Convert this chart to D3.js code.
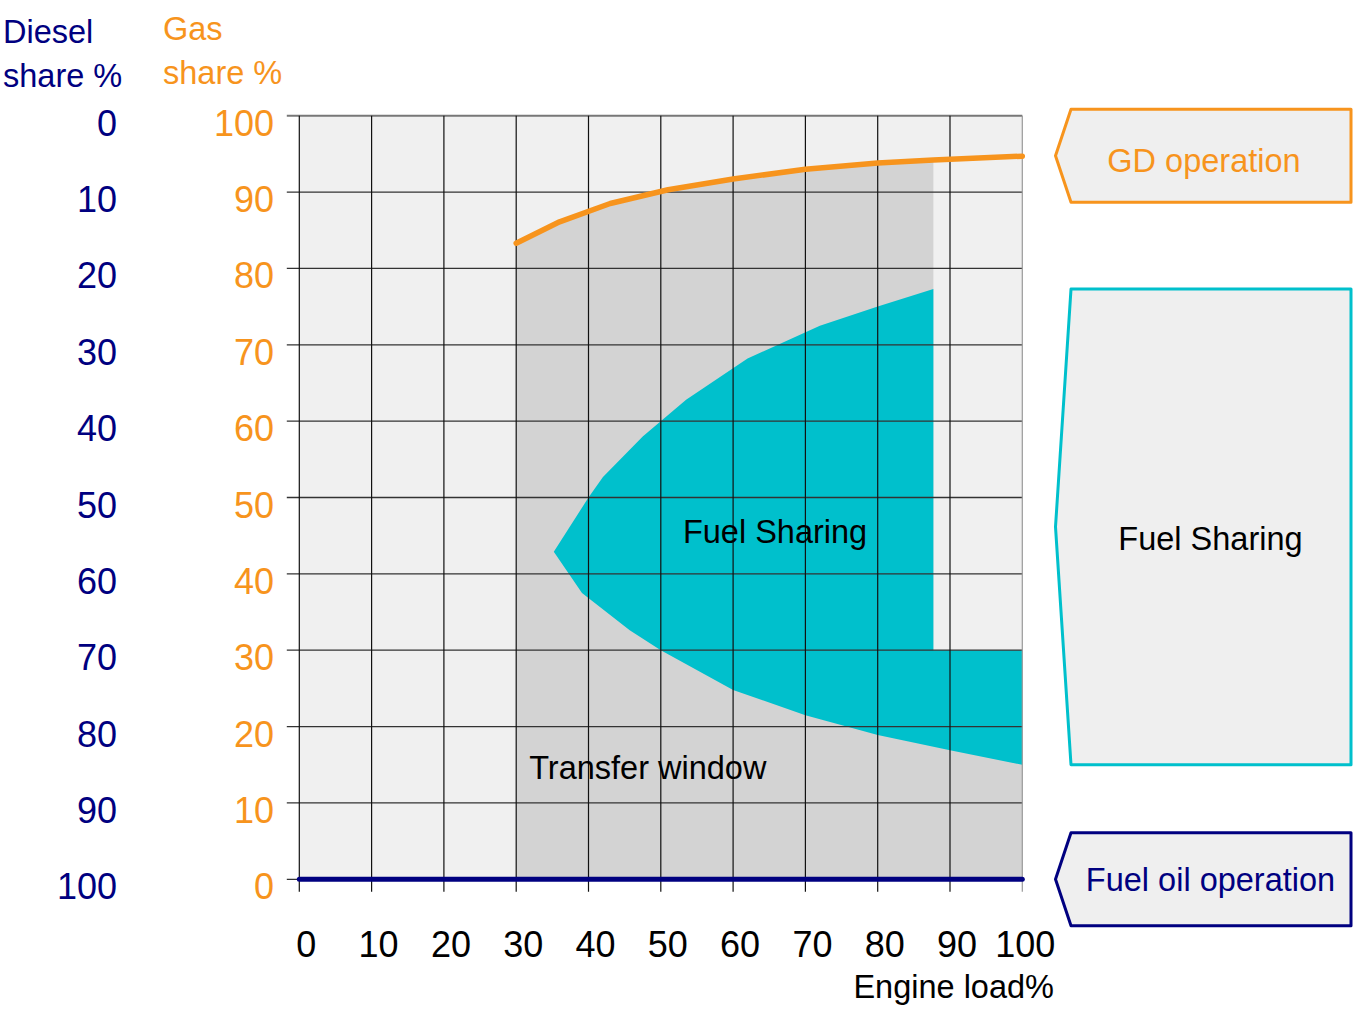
<!DOCTYPE html>
<html>
<head>
<meta charset="utf-8">
<script src="https://cdn.jsdelivr.net/npm/d3@7"></script>
<style>
  html, body { margin: 0; padding: 0; background: #ffffff; }
  svg { display: block; font-family: "Liberation Sans", Arial, sans-serif; }
</style>
</head>
<body>
<svg id="chart" width="1359" height="1013"></svg>
<script>
// Axis ticks
const loadTicks = [0, 10, 20, 30, 40, 50, 60, 70, 80, 90, 100];
const gasTicks = [100, 90, 80, 70, 60, 50, 40, 30, 20, 10, 0];
const dieselTicks = [0, 10, 20, 30, 40, 50, 60, 70, 80, 90, 100];

// Maximum gas share in gas-diesel operation (engine load %, gas share %)
const gdLoad = [30, 36, 43, 51, 60, 70, 80, 87.7, 100];
const gdGas = [83.3, 86.1, 88.5, 90.3, 91.7, 93.0, 93.8, 94.2, 94.7];

// Fuel sharing envelope: upper and lower boundaries
const upperLoad = [35.2, 40, 42, 47.5, 53.5, 62, 72, 80, 87.7];
const upperGas = [42.9, 50, 52.7, 58, 62.8, 68.2, 72.5, 75, 77.3];
const lowerLoad = [35.2, 39.1, 45.7, 50, 60, 70, 80, 90, 100];
const lowerGas = [42.9, 37.5, 32.6, 30, 24.8, 21.5, 18.9, 16.9, 15];

// Above this load the sharing band is capped at a fixed gas share
const sharingLoadLimit = 87.7;
const highLoadGasCap = 30;

const svg = d3.select("#chart");
const x = d3.scaleLinear().domain([0, 100]).range([299.3, 1022.3]);
const y = d3.scaleLinear().domain([0, 100]).range([879.3, 115.7]);

const navy = "#000080";
const orange = "#f7941d";
const cyan = "#00c0cc";
const fontSize = 32.5;

// Plot background
svg.append("rect")
  .attr("x", x(0)).attr("y", y(100))
  .attr("width", x(100) - x(0)).attr("height", y(0) - y(100))
  .attr("fill", "#f0f0f0");

const line = d3.line().x(d => x(d[0])).y(d => y(d[1]));

// Transfer window
const gdPts = gdLoad.map((l, i) => [l, gdGas[i]]);
const transfer = [[gdLoad[0], 0]]
  .concat(gdPts.filter(p => p[0] <= sharingLoadLimit))
  .concat([[sharingLoadLimit, highLoadGasCap], [100, highLoadGasCap], [100, 0]]);
svg.append("path")
  .attr("d", line(transfer) + "Z")
  .attr("fill", "#d3d3d3");

// Fuel sharing area
const upperPts = upperLoad.map((l, i) => [l, upperGas[i]]);
const lowerPts = lowerLoad.map((l, i) => [l, lowerGas[i]]);
const sharing = upperPts
  .concat([[sharingLoadLimit, highLoadGasCap], [100, highLoadGasCap]])
  .concat(lowerPts.slice().reverse());
svg.append("path")
  .attr("d", line(sharing) + "Z")
  .attr("fill", cyan);

// Grid: horizontal lines with left tick marks
const grid = svg.append("g");
grid.selectAll("line.h").data(gasTicks).enter().append("line")
  .attr("x1", x(0) - 12.5).attr("x2", x(100))
  .attr("y1", d => y(d)).attr("y2", d => y(d))
  .attr("stroke", d => d === 100 ? "#777" : "#333")
  .attr("stroke-width", d => d === 100 ? 2 : 1.3);
// Vertical lines with bottom tick marks
grid.selectAll("line.v").data(loadTicks).enter().append("line")
  .attr("x1", d => x(d)).attr("x2", d => x(d))
  .attr("y1", y(100)).attr("y2", y(0) + 12.5)
  .attr("stroke", d => d === 100 ? "#999" : "#111")
  .attr("stroke-width", 1.2);

// Gas-diesel operation limit line
svg.append("path")
  .attr("d", line(gdPts))
  .attr("fill", "none")
  .attr("stroke", orange)
  .attr("stroke-width", 5.5)
  .attr("stroke-linecap", "round")
  .attr("stroke-linejoin", "round");

// Fuel oil operation line (gas share 0)
svg.append("path")
  .attr("d", line([[0, 0], [100, 0]]))
  .attr("fill", "none")
  .attr("stroke", navy)
  .attr("stroke-width", 5)
  .attr("stroke-linecap", "round");

// Left axis titles
const titles = svg.append("g").attr("font-size", fontSize);
titles.append("text").attr("x", 3).attr("y", 43).attr("fill", navy).text("Diesel");
titles.append("text").attr("x", 3).attr("y", 87).attr("fill", navy).text("share %");
titles.append("text").attr("x", 163).attr("y", 40).attr("fill", orange).text("Gas");
titles.append("text").attr("x", 163).attr("y", 84).attr("fill", orange).text("share %");

// Left tick labels
const tickFont = 36;
svg.append("g").selectAll("text").data(dieselTicks).enter().append("text")
  .attr("x", 117).attr("y", d => y(100 - d) + 20)
  .attr("text-anchor", "end")
  .attr("font-size", tickFont)
  .attr("fill", navy)
  .text(d => d);
svg.append("g").selectAll("text").data(gasTicks).enter().append("text")
  .attr("x", 274).attr("y", d => y(d) + 20)
  .attr("text-anchor", "end")
  .attr("font-size", tickFont)
  .attr("fill", orange)
  .text(d => d);

// Bottom tick labels
svg.append("g").selectAll("text").data(loadTicks).enter().append("text")
  .attr("x", d => x(d) + (d === 100 ? 3 : 7))
  .attr("y", 957)
  .attr("text-anchor", "middle")
  .attr("font-size", tickFont)
  .attr("fill", "#000")
  .text(d => d);
svg.append("text")
  .attr("x", 1054).attr("y", 998)
  .attr("text-anchor", "end")
  .attr("font-size", fontSize)
  .attr("fill", "#000")
  .text("Engine load%");

// Region labels
svg.append("text")
  .attr("x", x(65.8)).attr("y", y(44.0))
  .attr("text-anchor", "middle")
  .attr("font-size", fontSize)
  .attr("fill", "#000")
  .text("Fuel Sharing");
svg.append("text")
  .attr("x", x(48.2)).attr("y", y(13.1))
  .attr("text-anchor", "middle")
  .attr("font-size", fontSize)
  .attr("fill", "#000")
  .text("Transfer window");

// Operation mode tags on the right
const tagLeft = 1071, tagRight = 1351, tagTip = 1055.5;
function tag(top, bottom, color, label, labelColor, textX, baseline) {
  const mid = (top + bottom) / 2;
  const pts = [[tagLeft, top], [tagRight, top], [tagRight, bottom], [tagLeft, bottom], [tagTip, mid]];
  svg.append("path")
    .attr("d", d3.line()(pts) + "Z")
    .attr("fill", "#efefef")
    .attr("stroke", color)
    .attr("stroke-width", 3)
    .attr("stroke-linejoin", "round");
  svg.append("text")
    .attr("x", textX).attr("y", baseline)
    .attr("text-anchor", "middle")
    .attr("font-size", fontSize)
    .attr("fill", labelColor)
    .text(label);
}
const gdEnd = gdGas[gdGas.length - 1];
tag(y(gdEnd) - 47, y(gdEnd) + 46, orange, "GD operation", orange, 1204, 172);
tag(y(upperGas[upperGas.length - 1]), y(lowerGas[lowerGas.length - 1]), cyan, "Fuel Sharing", "#000", 1210.5, 550);
tag(y(0) - 46.5, y(0) + 46.5, navy, "Fuel oil operation", navy, 1210.5, 891);
</script>
</body>
</html>
